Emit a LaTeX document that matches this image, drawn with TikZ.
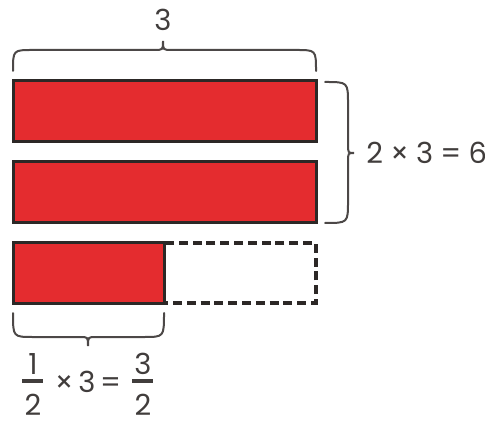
\documentclass[tikz,border=0pt]{standalone}
\usepackage{fontspec}
\setmainfont{Poppins}
\usetikzlibrary{positioning}
\definecolor{barred}{HTML}{E42C2F}
\definecolor{inkgray}{HTML}{2C2826}
\newcommand\barlabelfont{\fontsize{14.5}{17}\selectfont\spaceskip=2.4pt\relax}
\begin{document}
\begin{tikzpicture}[
        x=0.5pt, y=-0.5pt,
        font=\barlabelfont,
        bar part/.style ={draw=inkgray, fill=barred, line width=1.5pt},
        bar rest/.style ={draw=inkgray, line width=1.6pt, dash pattern=on 4.5pt off 2.4pt},
        curly/.style    ={draw=inkgray!85, line width=1pt, line cap=round},
        frac bar/.style ={draw=inkgray!90, line width=2pt},
        lbl/.style      ={text=inkgray!90, inner sep=0pt}
    ]
    \useasboundingbox (0,0) rectangle (485,421);
    %% --- the three bars --------------------------------------------------
    \draw[bar rest] (164,243) rectangle (316,303);
    \foreach \top in {81,162} {
            \draw[bar part] (13,\top) rectangle (316,\top+61);
        }
    \draw[bar part] (13,243) rectangle (164,303);
    %% --- brace over the first bar -----------------------------------------
    \draw[curly] (13,71) .. controls (13,50) .. (33,50) -- (154,50)
        .. controls (163,50) .. (163,41) .. controls (163,50) .. (172,50)
        -- (296,50) .. controls (316,50) .. (316,71);
    \node[lbl] (whole) at (163,20) {3};
    %% --- brace right of the two full bars ---------------------------------
    \draw[curly] (325,82) .. controls (348,82) .. (348,104) -- (348,144)
        .. controls (348,153) .. (354,153) .. controls (348,153) .. (348,162)
        -- (348,201) .. controls (348,223) .. (325,223);
    \node[lbl, anchor=west, font={\barlabelfont\spaceskip=3.6pt\relax}] (twice) at (366,153) {2 × 3 = 6};
    %% --- brace under the half bar -----------------------------------------
    \draw[curly] (13,313) .. controls (13,337) .. (33,337) -- (80,337)
        .. controls (88,337) .. (88,346) .. controls (88,337) .. (96,337)
        -- (144,337) .. controls (164,337) .. (164,313);
    \node[lbl] (numA) at (33,364) {1};
    \node[lbl, anchor=base] (denA) at (33,415) {2};
    \draw[frac bar] (22,381) coordinate (fa) -- ++(21,0);
    \node[lbl] (times) at (88,382) {× 3 =};
    \node[lbl] (numB) at (143,364) {3};
    \node[lbl, anchor=base] (denB) at (143,415) {2};
    \draw[frac bar] (132,381) coordinate (fb) -- ++(21,0);
\end{tikzpicture}
\end{document}
